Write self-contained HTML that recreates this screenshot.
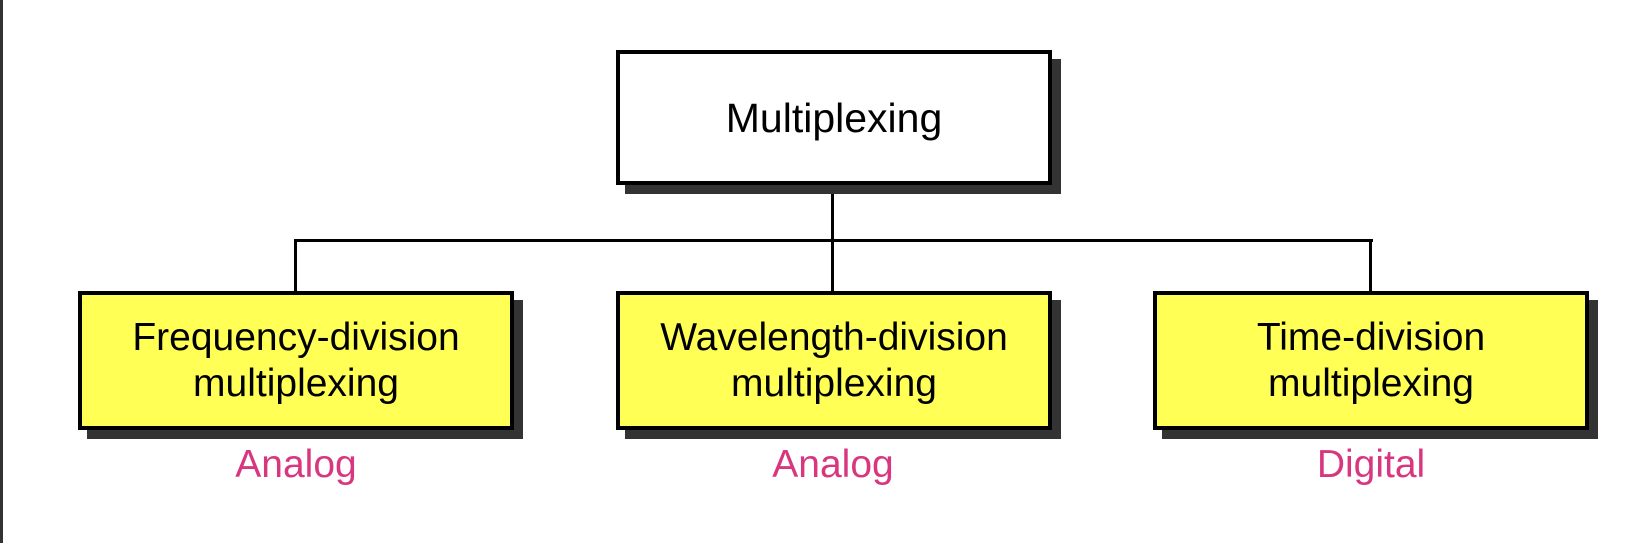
<!DOCTYPE html>
<html><head><style>
html,body{margin:0;padding:0;background:#fff;}
body{width:1631px;height:543px;position:relative;overflow:hidden;font-family:"Liberation Sans",sans-serif;}
.b{position:absolute;box-sizing:border-box;border:4px solid #000;box-shadow:9px 9px 0 #333;display:flex;align-items:center;justify-content:center;text-align:center;font-size:39px;line-height:46px;color:#000;}
.y{background:#ffff55;}
.l{position:absolute;background:#000;}
.t{position:absolute;color:#d8377f;font-size:39px;width:300px;text-align:center;top:443px;}
</style></head><body>
<div style="position:absolute;left:0;top:0;width:3px;height:543px;background:#333"></div>
<div class="l" style="left:831px;top:184px;width:3px;height:108px"></div>
<div class="l" style="left:294px;top:239px;width:1079px;height:3px"></div>
<div class="l" style="left:294px;top:239px;width:3px;height:53px"></div>
<div class="l" style="left:1369px;top:239px;width:3px;height:53px"></div>
<div class="b" style="left:616px;top:50px;width:436px;height:135px;background:#fff;font-size:41px">Multiplexing</div>
<div class="b y" style="left:78px;top:291px;width:436px;height:139px">Frequency-division<br>multiplexing</div>
<div class="b y" style="left:616px;top:291px;width:436px;height:139px">Wavelength-division<br>multiplexing</div>
<div class="b y" style="left:1153px;top:291px;width:436px;height:139px">Time-division<br>multiplexing</div>
<div class="t" style="left:146px">Analog</div>
<div class="t" style="left:683px">Analog</div>
<div class="t" style="left:1221px">Digital</div>
</body></html>
